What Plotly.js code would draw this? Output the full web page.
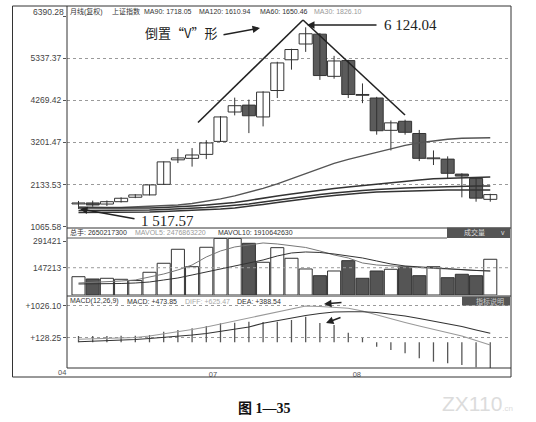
<!DOCTYPE html>
<html><head><meta charset="utf-8">
<script src="https://cdn.plot.ly/plotly-3.0.1.min.js"></script>
<style>html,body{margin:0;padding:0;background:#fff;} #chart{width:536px;height:422px;}</style>
</head><body><div id="chart"></div>
<script>
// ---- data (monthly bars) ----
const months = ['2006-06','2006-07','2006-08','2006-09','2006-10','2006-11','2006-12','2007-01','2007-02','2007-03','2007-04','2007-05','2007-06','2007-07','2007-08','2007-09','2007-10','2007-11','2007-12','2008-01','2008-02','2008-03','2008-04','2008-05','2008-06','2008-07','2008-08','2008-09','2008-10','2008-11'];
const openP  = [1643,1668,1640,1700,1813,1872,2140,2762,2800,2900,3230,3975,4150,3850,4520,5300,5700,5950,4880,5280,4420,4330,3510,3740,3430,2790,2780,2400,2290,1760];
const highP  = [1719,1726,1730,1810,1890,2130,2720,3040,3060,3260,3870,4340,4290,4500,5250,5580,6124.04,5980,5400,5300,4700,4360,3760,3780,3520,3000,2850,2420,2300,1900];
const lowP   = [1517.57,1570,1590,1680,1790,1860,2130,2680,2590,2780,3220,3890,3440,3610,4330,5050,5500,4790,4820,4330,4200,3400,3000,3400,2730,2630,2300,1810,1700,1700];
const closeP = [1668,1617,1700,1787,1872,2126,2710,2810,2885,3190,3850,4135,3880,4480,5220,5560,5960,4900,5270,4420,4400,3500,3700,3460,2800,2810,2420,2350,1790,1880];
const ma30  = [1567,1554,1554,1554,1567,1579,1592,1617,1655,1706,1770,1846,1935,2037,2151,2279,2406,2546,2673,2774,2863,2952,3041,3130,3194,3245,3283,3308,3321,3321];
const ma60  = [1541,1541,1528,1528,1528,1541,1554,1567,1592,1617,1643,1681,1732,1795,1846,1897,1948,1999,2037,2075,2113,2151,2190,2228,2253,2279,2291,2304,2317,2329];
const ma90  = [1477,1477,1477,1477,1477,1490,1503,1516,1528,1554,1579,1605,1643,1694,1745,1795,1846,1884,1922,1961,1986,2011,2037,2050,2062,2075,2088,2100,2100,2100];
const ma120 = [1427,1427,1427,1427,1427,1439,1452,1465,1477,1490,1516,1541,1579,1630,1681,1732,1783,1821,1859,1897,1922,1948,1961,1973,1986,1986,1999,1999,1999,1999];
const volume = [98800,86400,90200,84800,78000,122600,171200,246800,152800,257600,305000,305000,279000,176600,255500,198200,140400,104200,129600,185300,90200,129600,138800,152800,104200,152800,93400,111800,104200,192800];
const mavol5  = [64800,67500,70200,75600,81000,97200,113400,135000,162000,205200,237600,259200,270000,280800,275400,264600,256500,237600,216000,199800,172800,162000,156600,151200,145800,143100,140400,135000,132300,129600];
const mavol10 = [59400,59400,62100,62100,64800,70200,81000,91800,108000,124200,140400,156600,172800,189000,210600,226800,232200,229500,221400,210600,199800,183600,167400,156600,151200,145800,140400,135000,132300,129600];
const macdHist = [177,177,177,185,185,205,297,345,393,457,533,550,578,570,578,626,718,541,485,269,121,-123,-216,-309,-449,-544,-589,-637,-701,-729];
const diff = [84,93,101,121,135,177,233,289,359,429,514,598,682,766,850,948,1019,1005,977,954,878,766,654,556,457,359,261,177,51,-76];
const dea  = [17,31,42,59,79,107,135,168,205,247,303,359,429,533,612,682,752,808,850,859,859,836,794,738,668,598,528,443,345,253];
const priceTicks = [1065.58,2133.53,3201.47,4269.42,5337.37,6390.28];
const volTicks = [147213,291421];
const macdTicks = [128.25,1026.10];
const xTickLabels = ['04','07','08'];

// ---- geometry helpers (pixel -> paper) ----
const L=67,R=511,T=6,B=368;
const PX = x => (x-L)/(R-L);
const PY = y => (B-y)/(B-T);
const xs = months.map((m,i)=>i);

const wx=[],wy=[];
xs.forEach((x,i)=>{wx.push(x,x,null); wy.push(lowP[i],highP[i],null);});
const down = xs.map(i=>closeP[i]<openP[i]);
const bodyBase = xs.map(i=>Math.min(openP[i],closeP[i]));
const bodyH = xs.map(i=>Math.max(Math.abs(closeP[i]-openP[i]),12));
const dark='#5b5b5b';

const traces = [
 {type:'scatter',mode:'lines',x:wx,y:wy,line:{color:'#333',width:1},xaxis:'x',yaxis:'y'},
 {type:'bar',x:xs,y:bodyH,base:bodyBase,width:0.92,marker:{color:down.map(d=>d?dark:'#fff'),line:{color:'#333',width:1}},xaxis:'x',yaxis:'y'},
 {type:'scatter',mode:'lines',x:xs,y:ma30,line:{color:'#555',width:1.4},xaxis:'x',yaxis:'y'},
 {type:'scatter',mode:'lines',x:xs,y:ma60,line:{color:'#333',width:1.5},xaxis:'x',yaxis:'y'},
 {type:'scatter',mode:'lines',x:xs,y:ma90,line:{color:'#333',width:1.5},xaxis:'x',yaxis:'y'},
 {type:'scatter',mode:'lines',x:xs,y:ma120,line:{color:'#333',width:1.5},xaxis:'x',yaxis:'y'},
 {type:'bar',x:xs,y:volume,width:0.92,marker:{color:down.map(d=>d?'#555':'#fff'),line:{color:'#333',width:1}},xaxis:'x',yaxis:'y2'},
 {type:'scatter',mode:'lines',x:xs,y:mavol5,line:{color:'#777',width:1},xaxis:'x',yaxis:'y2'},
 {type:'scatter',mode:'lines',x:xs,y:mavol10,line:{color:'#333',width:1},xaxis:'x',yaxis:'y2'},
 {type:'bar',x:xs,y:macdHist,width:0.09,marker:{color:'#555',line:{width:0}},xaxis:'x',yaxis:'y3'},
 {type:'scatter',mode:'lines',x:xs,y:diff,line:{color:'#999',width:1.1},xaxis:'x',yaxis:'y3'},
 {type:'scatter',mode:'lines',x:xs,y:dea,line:{color:'#333',width:1.1},xaxis:'x',yaxis:'y3'}
];

const tf = {family:'Liberation Sans, Arial, sans-serif',size:8.5,color:'#444'};
const gridCommon = {showgrid:true,gridcolor:'#9a9a9a',griddash:'dot',gridwidth:1,zeroline:false,showline:false,ticks:'outside',ticklen:3,tickcolor:'#555',tickfont:tf,fixedrange:true};

function txt(x,y,t,opt){return Object.assign({xref:'paper',yref:'paper',x:PX(x),y:PY(y),text:t,showarrow:false,xanchor:'left',yanchor:'middle',font:{family:'Liberation Sans, Arial, "Noto Sans CJK SC", sans-serif',size:7,color:'#333'}},opt||{});}
function arrow(tx,ty,fx,fy){return {xref:'paper',yref:'paper',x:PX(tx),y:PY(ty),ax:fx-tx,ay:fy-ty,text:'',showarrow:true,arrowhead:2,arrowsize:1,arrowwidth:1.5,arrowcolor:'#222'};}
function ln(x0,y0,x1,y1,c,w,dash){return {type:'line',xref:'paper',yref:'paper',x0:PX(x0),y0:PY(y0),x1:PX(x1),y1:PY(y1),line:{color:c||'#333',width:w||1,dash:dash||'solid'}};}

const serif = {family:'Liberation Serif, "DejaVu Serif", serif',size:15,color:'#222'};
const cjk = {family:'"Noto Sans CJK SC", sans-serif',size:13,color:'#222'};

const annotations = [
 txt(68,11,'月线(复权)'), txt(110,11,'上证指数'), txt(142,11,'MA90: 1718.05'), txt(197,11,'MA120: 1610.94'),
 txt(258,11,'MA60: 1650.46'), txt(312,11,'MA30: 1826.10',{font:{family:'Liberation Sans, Arial',size:7,color:'#999'}}),
 txt(68,232.5,'总手: 2650217300'), txt(133,232.5,'MAVOL5: 2476863220',{font:{family:'Liberation Sans, Arial',size:7,color:'#999'}}), txt(216,232.5,'MAVOL10: 1910642630'),
 txt(462,232.5,'成交量',{font:{family:'"Noto Sans CJK SC", sans-serif',size:7,color:'#ddd'}}), txt(499,232.5,'v',{font:{family:'Liberation Sans',size:7,color:'#ddd'}}),
 txt(68,301,'MACD(12,26,9)'), txt(125,301,'MACD: +473.85'), txt(183,301,'DIFF: +625.47',{font:{family:'Liberation Sans, Arial',size:7,color:'#aaa'}}), txt(235,301,'DEA: +388.54'),
 txt(474,301,'指标说明',{font:{family:'"Noto Sans CJK SC", sans-serif',size:7,color:'#ccc'}}),
 txt(66,12,'6390.28',{xanchor:'right',font:tf}),
 txt(62,372.5,xTickLabels[0],{xanchor:'center',font:{family:'Liberation Sans, Arial',size:7.5,color:'#555'}}),
 txt(181,33,'倒置“V”形',{xanchor:'center',font:cjk}),
 txt(382,25,'6 124.04',{font:serif}),
 txt(139,220.5,'1 517.57',{font:serif}),
 txt(264,408,'<b>图 1—35</b>',{xanchor:'center',font:{family:'Liberation Serif, "Noto Sans CJK SC", serif',size:14,color:'#111'}}),
 txt(440,403,'ZX110<span style="font-size:8px">.cn</span>',{font:{family:'Liberation Sans, Arial',size:21,color:'#dcdcdc'}}),
 arrow(260,28,222,35),
 arrow(307,25,378,25),
 arrow(80,209,136,219),
 arrow(324,304,343,302.5),
 arrow(326,323,342,317)
];

const shapes = [
 {type:'rect',xref:'paper',yref:'paper',x0:PX(12.5),x1:PX(511),y0:PY(377),y1:PY(6),line:{color:'#333',width:1}},
 ln(67,6,67,368,'#333',1),
 ln(67,368,511,368,'#333',1),
 ln(67,228,511,228,'#333',1),
 ln(67,238,447,238,'#555',1),
 ln(67,296,511,296,'#333',1),
 {type:'rect',xref:'paper',yref:'paper',x0:PX(447),x1:PX(510),y0:PY(238),y1:PY(227.5),fillcolor:'#555',line:{width:0}},
 {type:'rect',xref:'paper',yref:'paper',x0:PX(462),x1:PX(510),y0:PY(305.5),y1:PY(296.5),fillcolor:'#555',line:{width:0}},
 {type:'line',xref:'paper',yref:'y2',x0:0,x1:1,y0:volTicks[0],y1:volTicks[0],line:{color:'#9a9a9a',width:1,dash:'dot'}},
 ln(198,122.5,303,20,'#222',1.6),
 ln(303,20,405,115,'#222',1.6)
];

const layout = {
 width:536,height:422,margin:{l:L,r:536-R,t:T,b:422-B},
 paper_bgcolor:'#fff',plot_bgcolor:'#fff',showlegend:false,hovermode:false,barmode:'overlay',
 font:{family:'Liberation Sans, Arial, sans-serif',size:8,color:'#444'},
 xaxis:{anchor:'y3',domain:[0,1],range:[-0.81,30.46],tickvals:[9.47,19.6],ticktext:xTickLabels.slice(1),ticks:'',showgrid:false,zeroline:false,showline:false,tickfont:{family:'Liberation Sans, Arial',size:7.5,color:'#555'},fixedrange:true},
 yaxis:Object.assign({},gridCommon,{domain:[PY(226.7),PY(16.8)],range:[1065.58,6390.28],tickvals:priceTicks,ticktext:priceTicks.map(v=>v===6390.28?'':v.toFixed(2))}),
 yaxis2:Object.assign({},gridCommon,{showgrid:false,domain:[PY(295),PY(238)],range:[0,307611],tickvals:volTicks,ticktext:volTicks.map(String)}),
 yaxis3:Object.assign({},gridCommon,{domain:[0,PY(297)],range:[-721,1271],tickvals:macdTicks,ticktext:macdTicks.map(v=>'+'+v.toFixed(2))}),
 annotations:annotations,shapes:shapes
};
Plotly.newPlot('chart',traces,layout,{displayModeBar:false,staticPlot:true});
</script></body></html>
